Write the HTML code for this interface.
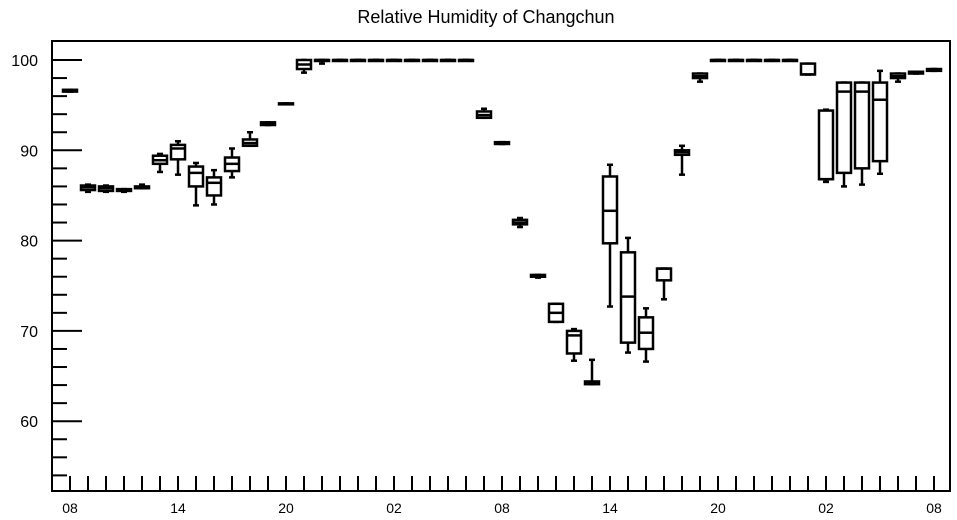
<!DOCTYPE html>
<html><head><meta charset="utf-8"><style>
body{margin:0;background:#fff;}
svg{display:block;font-family:"Liberation Sans",sans-serif;}
</style></head><body>
<svg id="chart" width="957" height="520" viewBox="0 0 957 520">
<text x="486" y="23" font-size="18" text-anchor="middle">Relative Humidity of Changchun</text>
<rect x="52" y="41" width="898" height="450" fill="none" stroke="#000" stroke-width="2"/>
<g id="axes"></g>
<g id="marks"></g>
</svg>
<script>
const hours = ["08","09","10","11","12","13","14","15","16","17","18","19","20","21","22","23","00","01","02","03","04","05","06","07","08","09","10","11","12","13","14","15","16","17","18","19","20","21","22","23","00","01","02","03","04","05","06","07","08"];
const lo  = [96.5,85.4,85.4,85.4,85.8,87.6,87.3,83.9,84.0,87.0,90.5,92.8,95.1,98.6,99.6,100,100,100,100,100,100,100,100,93.6,90.7,81.5,75.9,71.0,66.7,64.1,72.7,67.6,66.6,73.5,87.3,97.6,100,100,100,100,100,98.4,86.5,86.0,86.2,87.4,97.6,98.5,98.8];
const q1  = [96.5,85.6,85.5,85.5,85.8,88.5,89.0,86.0,85.0,87.7,90.5,92.8,95.1,99.0,100,100,100,100,100,100,100,100,100,93.6,90.7,81.8,76.0,71.0,67.5,64.1,79.7,68.7,68.0,75.6,89.5,98.0,100,100,100,100,100,98.4,86.8,87.5,88.0,88.8,98.0,98.5,98.8];
const med = [96.6,85.9,85.8,85.6,85.9,88.9,90.2,87.5,86.4,88.5,90.8,92.9,95.1,99.5,100,100,100,100,100,100,100,100,100,93.9,90.8,82.0,76.1,72.0,69.5,64.2,83.3,73.8,69.8,76.9,89.8,98.2,100,100,100,100,100,98.4,86.8,96.5,96.5,95.6,98.2,98.6,98.9];
const q3  = [96.7,86.1,86.0,85.7,86.0,89.4,90.6,88.2,87.0,89.2,91.2,93.1,95.2,100,100,100,100,100,100,100,100,100,100,94.3,90.9,82.3,76.2,73.0,70.0,64.4,87.1,78.7,71.5,76.9,90.0,98.5,100,100,100,100,100,99.6,94.4,97.5,97.5,97.5,98.5,98.7,99.0];
const hi  = [96.7,86.2,86.1,85.7,86.2,89.6,91.0,88.6,87.8,90.2,92.0,93.1,95.2,100,100,100,100,100,100,100,100,100,100,94.6,90.9,82.5,76.2,73.0,70.2,66.8,88.4,80.3,72.5,76.9,90.5,98.5,100,100,100,100,100,99.6,94.5,97.5,97.5,98.8,98.5,98.7,99.0];
const yTicks = [60,70,80,90,100];

const NS="http://www.w3.org/2000/svg";
const X0=70, DX=18;
function xs(i){return X0+DX*i;}
function ys(v){return 60+(100-v)*9.03;}
function mk(t,a,p){const e=document.createElementNS(NS,t);for(const k in a)e.setAttribute(k,a[k]);p.appendChild(e);return e;}
const axes=document.getElementById('axes'), marks=document.getElementById('marks');
// y ticks
for(let v=54; v<=100; v+=2){
  const major = v%10===0;
  const t=mk('line',{x1:52,x2:major?82:67,y1:ys(v),y2:ys(v),stroke:'#000','stroke-width':2},axes);
  
  
}
yTicks.forEach(v=>{
  const t=mk('text',{x:38,y:ys(v)+6,'font-size':16,'text-anchor':'end'},axes);
  t.textContent=v;
  
  
});
hours.forEach((h,i)=>{
  const t=mk('line',{x1:xs(i),x2:xs(i),y1:476,y2:491,stroke:'#000','stroke-width':2},axes);
  
  
  if(i%6===0){
    const l=mk('text',{x:xs(i),y:513,'font-size':14,'text-anchor':'middle'},axes);
    l.textContent=h;
    
    
  }
});
// boxes
hours.forEach((h,i)=>{
  const g=mk('g',{stroke:'#000','stroke-width':2.5,fill:'none'},marks);
  
  
  const x=xs(i), w=7;
  const yq1=ys(q1[i]), yq3=ys(q3[i]);
  mk('line',{x1:x,x2:x,y1:ys(hi[i]),y2:yq3},g);
  mk('line',{x1:x,x2:x,y1:yq1,y2:ys(lo[i])},g);
  mk('line',{x1:x-3,x2:x+3,y1:ys(hi[i]),y2:ys(hi[i])},g);
  mk('line',{x1:x-3,x2:x+3,y1:ys(lo[i]),y2:ys(lo[i])},g);
  mk('rect',{x:x-w,y:yq3,width:2*w,height:Math.max(1,yq1-yq3),fill:'#fff'},g);
  mk('line',{x1:x-w,x2:x+w,y1:ys(med[i]),y2:ys(med[i])},g);
});
</script>
</body></html>
